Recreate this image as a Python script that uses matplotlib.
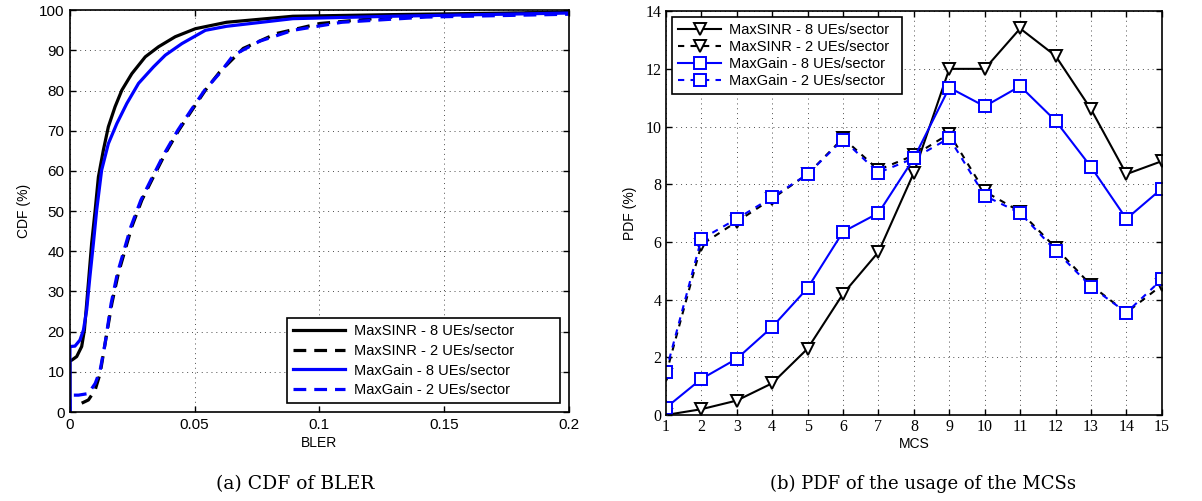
import numpy as np
import matplotlib
matplotlib.use('Agg')
import matplotlib.pyplot as plt

# CDF of BLER (CDF in %)
bler_sinr8 = [0, 0, 0.0007, 0.0027, 0.0047, 0.0058, 0.0067, 0.0076, 0.0087, 0.0101, 0.0114,
              0.0134, 0.0154, 0.0181, 0.0208, 0.0248, 0.0302, 0.0355, 0.0422, 0.0503,
              0.0628, 0.0894, 0.129, 0.2]
cdf_sinr8 = [0, 12.9, 12.9, 13.8, 16.3, 20.4, 27, 33.7, 42, 50.2, 58.5,
             65.2, 71, 76, 80.1, 84.2, 88.4, 90.9, 93.4, 95.4,
             97, 98.5, 98.9, 99.5]

bler_sinr2 = [0.0047, 0.0074, 0.0101, 0.0121, 0.0141, 0.0168, 0.0194, 0.0221, 0.0248, 0.0288,
              0.0328, 0.0382, 0.0436, 0.0489, 0.0543, 0.0600, 0.0695, 0.0828, 0.1002,
              0.129, 0.156, 0.2]
cdf_sinr2 = [2.2, 3.0, 5.5, 9.6, 17.1, 27, 34.5, 40.3, 46.1, 52.7,
             57.7, 64.3, 70.1, 75.1, 80.1, 84.6, 90.5, 94.2, 96.7,
             98.3, 98.9, 99.5]

bler_gain8 = [0, 0, 0.002, 0.004, 0.0054, 0.0067, 0.008, 0.0094, 0.0107, 0.0127, 0.0154,
              0.0188, 0.0228, 0.0275, 0.0335, 0.0382, 0.0449, 0.0543, 0.0628, 0.0894,
              0.129, 0.2]
cdf_gain8 = [0, 16.3, 16.4, 17.9, 20.4, 25.4, 33.7, 42, 50.2, 60.2, 66.8,
             71.8, 76.8, 81.8, 85.9, 88.8, 91.7, 95, 96, 97.9,
             98.5, 99.3]

bler_gain2 = [0, 0, 0.0034, 0.0074, 0.0101, 0.0121, 0.0141, 0.0165, 0.019, 0.0217, 0.0244,
              0.0284, 0.0324, 0.0378, 0.0432, 0.0485, 0.0540, 0.0600, 0.0655, 0.0761,
              0.0894, 0.109, 0.143, 0.2]
cdf_gain2 = [0, 4.2, 4.2, 4.6, 7.1, 10.4, 17.1, 27, 34.5, 40.3, 46.1,
             52.7, 57.7, 64.3, 70.1, 75.1, 80.1, 84.3, 88.8, 92.3,
             95, 97, 98.3, 99]

# PDF of MCS usage (%)
mcs = np.arange(1, 16)
pdf_sinr8 = [0, 0.2, 0.5, 1.1, 2.3, 4.2, 5.65, 8.4, 12.0, 12.0, 13.4, 12.45, 10.6, 8.35, 8.8]
pdf_sinr2 = [1.4, 5.9, 6.7, 7.5, 8.35, 9.6, 8.5, 9.0, 9.75, 7.75, 7.05, 5.8, 4.5, 3.55, 4.5]
pdf_gain8 = [0.25, 1.25, 1.95, 3.05, 4.4, 6.35, 7.0, 8.9, 11.35, 10.7, 11.4, 10.2, 8.6, 6.8, 7.85]
pdf_gain2 = [1.5, 6.1, 6.8, 7.55, 8.35, 9.55, 8.4, 8.9, 9.6, 7.6, 7.0, 5.7, 4.45, 3.55, 4.7]

labels = ['MaxSINR - 8 UEs/sector', 'MaxSINR - 2 UEs/sector',
          'MaxGain - 8 UEs/sector', 'MaxGain - 2 UEs/sector']

fig = plt.figure(figsize=(12.02, 5.01), dpi=100)
ax1 = fig.add_axes([0.0582, 0.1776, 0.415, 0.802])
ax2 = fig.add_axes([0.554, 0.1717, 0.4126, 0.806])

grid_kw = dict(color='0.3', linestyle=(0, (1, 4)), linewidth=0.7)

# left panel
lw = 2.3
ax1.plot(bler_sinr8, cdf_sinr8, color='black', lw=lw, label=labels[0])
ax1.plot(bler_sinr2, cdf_sinr2, color='black', lw=lw, dashes=(4, 2.5), label=labels[1])
ax1.plot(bler_gain8, cdf_gain8, color='blue', lw=lw, label=labels[2])
ax1.plot(bler_gain2, cdf_gain2, color='blue', lw=lw, dashes=(4, 2.5), label=labels[3])
ax1.set_xlim(0, 0.2)
ax1.set_ylim(0, 100)
ax1.set_xticks([0, 0.05, 0.1, 0.15, 0.2])
ax1.set_xticklabels(['0', '0.05', '0.1', '0.15', '0.2'])
ax1.set_yticks(np.arange(0, 101, 10))
ax1.grid(True, **grid_kw)
ax1.tick_params(direction='in', top=True, right=True, length=4, width=1, labelsize=11, pad=4)
for lab in ax1.get_xticklabels() + ax1.get_yticklabels():
    lab.set_family('Liberation Sans')
ax1.set_xlabel('BLER', fontsize=10, family='Liberation Sans', labelpad=3)
ax1.set_ylabel('CDF (%)', fontsize=10, family='Liberation Sans', labelpad=6)
leg1 = ax1.legend(loc='lower left', bbox_to_anchor=(0.435, 0.022, 0.547, 0.229), mode='expand',
                  prop={'family': 'Liberation Sans', 'size': 10.5},
                  handlelength=3.6, fancybox=False, framealpha=1, edgecolor='black',
                  borderaxespad=0, labelspacing=0.4, handletextpad=0.6)
leg1.get_frame().set_linewidth(1.2)

# right panel
mk = dict(markersize=9, markerfacecolor='white', markeredgewidth=1.4)
ax2.plot(mcs, pdf_sinr8, color='black', lw=1.5, marker='v', label=labels[0], **mk)
ax2.plot(mcs, pdf_sinr2, color='black', lw=1.5, dashes=(3, 3), marker='v', label=labels[1], **mk)
ax2.plot(mcs, pdf_gain8, color='blue', lw=1.5, marker='s', label=labels[2], **mk)
ax2.plot(mcs, pdf_gain2, color='blue', lw=1.5, dashes=(3, 3), marker='s', label=labels[3], **mk)
ax2.set_xlim(1, 15)
ax2.set_ylim(0, 14)
ax2.set_xticks(mcs)
ax2.set_yticks(np.arange(0, 15, 2))
ax2.grid(True, **grid_kw)
ax2.tick_params(direction='in', top=True, right=True, length=4, width=1, labelsize=11.5, pad=3)
for lab in ax2.get_xticklabels() + ax2.get_yticklabels():
    lab.set_family('Liberation Serif')
ax2.set_xlabel('MCS', fontsize=10, family='Liberation Sans', labelpad=1)
ax2.set_ylabel('PDF (%)', fontsize=10, family='Liberation Sans', labelpad=6)
leg2 = ax2.legend(loc='upper left', bbox_to_anchor=(0.012, 0.765, 0.464, 0.22), mode='expand',
                  prop={'family': 'Liberation Sans', 'size': 10.5},
                  handlelength=3.0, fancybox=False, framealpha=1, edgecolor='black',
                  borderaxespad=0, labelspacing=0.2, handletextpad=0.5)
leg2.get_frame().set_linewidth(1.2)

for ax in (ax1, ax2):
    for s in ax.spines.values():
        s.set_linewidth(1.2)

fig.text(0.2454, 0.034, '(a) CDF of BLER', ha='center', va='center',
         fontsize=13.5, family='DejaVu Serif')
fig.text(0.768, 0.034, '(b) PDF of the usage of the MCSs', ha='center', va='center',
         fontsize=13, family='DejaVu Serif')

fig.savefig('out.png', dpi=100)
